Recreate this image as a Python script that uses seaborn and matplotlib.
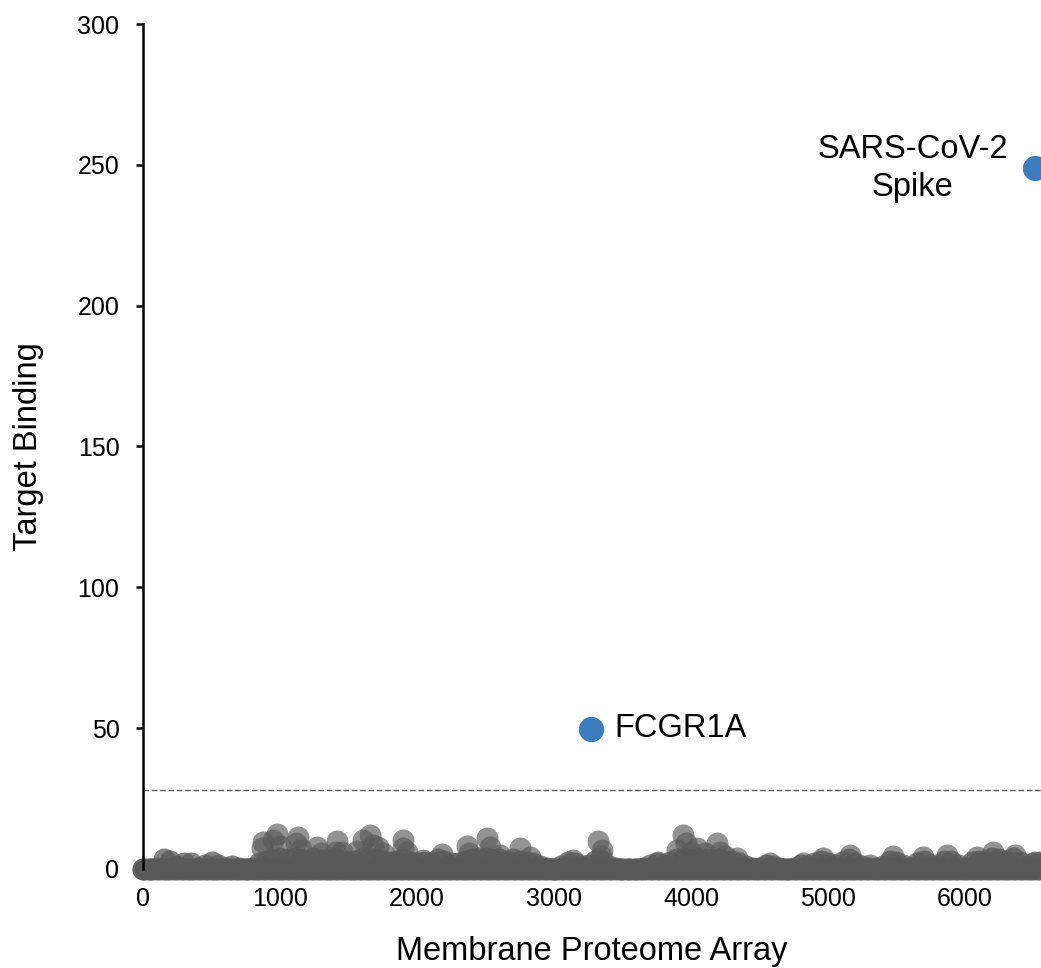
import numpy as np
import pandas as pd
import seaborn as sns
from matplotlib import pyplot as plt

# Membrane Proteome Array: background binding, sampled every 50 array positions
BASE_STEP = 50
base_binding = [
    0, 0, 0.5, 3.5, 3, 1, 2, 2, 0.5, 1.5, 2.5, 1.5, 0.5, 1, 0.5, 0, 0.5,
    2, 3, 3.5, 4, 3.5, 4, 3.5, 3, 4, 3, 3.5, 4, 3, 2.5, 3, 4, 4, 3.5, 3,
    2.5, 3, 3.5, 2.5, 2, 2.5, 2, 3.5, 3, 2, 2, 3, 3.5, 4, 4, 3.5, 3.5, 3,
    3.5, 3, 2.5, 2, 1, 0.5, 0, 1, 2.5, 2, 1, 1.5, 3, 3, 1, 0.5, 0, 0, 0,
    0.5, 1.5, 2, 1.5, 2.5, 3.5, 4, 3.5, 4, 3.5, 3, 3.5, 3, 3, 2, 1, 0.5,
    0.5, 1.5, 1, 0.5, 0, 0.5, 1.5, 1, 2, 3, 2, 1.5, 2.5, 3.5, 2, 1, 0.5,
    0.5, 1, 3, 2.5, 1.5, 0.5, 2, 3, 1.5, 1, 3, 3, 1.5, 0.5, 2.5, 3, 3, 4,
    3.5, 3, 4, 2.5, 1, 2, 2.5,
]
# most array positions read zero binding
ZERO_STEP = 25
ZERO_END = 6550

# weaker binders standing above the background
hit_pos = [
    870, 878, 950, 976, 1000, 1120, 1134, 1150, 1268, 1300, 1410, 1414,
    1450, 1560, 1608, 1657, 1680, 1716, 1750, 1895, 1900, 1930, 2044, 2180,
    2362, 2380, 2509, 2533, 2606, 2752, 2825, 3139, 3324, 3350, 3340, 3760,
    3895, 3942, 3965, 4000, 4041, 4100, 4188, 4210, 4250, 4333, 4577, 4818,
    4966, 5160, 5306, 5477, 5696, 5866, 6085, 6207, 6365, 6511,
]
hit_binding = [
    7.3, 9.7, 10.3, 12.3, 8, 9.1, 11.5, 7, 7.9, 5.5, 6.1, 9.9,
    6, 6.5, 10.3, 12.1, 8.5, 7.9, 5.5, 7.3, 10.3, 6, 3.2, 5.2,
    8.3, 5.6, 10.9, 7.9, 5, 7.6, 4.4, 3.2, 9.9, 6.7, 4.5, 2.6,
    6.7, 12.1, 9.1, 6, 7.3, 5.5, 9.1, 6.1, 4.5, 3.8, 2, 2,
    3.8, 5, 1.4, 4.7, 4.4, 5, 4.4, 6.1, 5, 2.6,
]

# specific targets
target_names = ["FCGR1A", "SARS-CoV-2\nSpike"]
target_pos = [3270, 6511]
target_binding = [49.7, 248.8]
threshold = 28

GREY = "#595959"
BLUE = "#3C7DBF"

sns.set_style("white")
plt.rcParams["font.family"] = ["Liberation Sans", "DejaVu Sans"]
plt.rcParams["text.color"] = "black"
plt.rcParams["axes.labelcolor"] = "black"

zero_pos = np.arange(0, ZERO_END + 1, ZERO_STEP)
floor_df = pd.DataFrame({"pos": zero_pos, "binding": np.zeros(len(zero_pos))})
base_df = pd.DataFrame({"pos": np.arange(len(base_binding)) * BASE_STEP,
                        "binding": base_binding})
hits_df = pd.DataFrame({"pos": hit_pos, "binding": hit_binding})
targets_df = pd.DataFrame({"pos": target_pos, "binding": target_binding,
                           "name": target_names})

fig = plt.figure(figsize=(10.41, 9.68), dpi=100)
ax = fig.add_axes([0.1374, 0.1023, 0.8626, 0.8729])

grey_kw = dict(color=GREY, s=250, linewidth=0, clip_on=False, legend=False)
sns.scatterplot(ax=ax, data=floor_df, x="pos", y="binding", alpha=0.8, **grey_kw)
sns.scatterplot(ax=ax, data=base_df, x="pos", y="binding", alpha=0.75, **grey_kw)
sns.scatterplot(ax=ax, data=hits_df, x="pos", y="binding", alpha=0.65, **grey_kw)

sns.scatterplot(ax=ax, data=targets_df, x="pos", y="binding", color=BLUE,
                s=330, linewidth=0, clip_on=False, legend=False, zorder=4)

ax.axhline(threshold, color=GREY, linewidth=1, linestyle=(0, (4, 2)), zorder=1)

ax.text(3438, 49.7, target_names[0], fontsize=23.5, ha="left", va="center")
ax.text(5620, 248.8, target_names[1], fontsize=23.5, ha="center", va="center",
        linespacing=1.3)

ax.set_xlim(0, 6555)
ax.set_ylim(0, 300)
ax.set_xticks(range(0, 7000, 1000))
ax.set_yticks(range(0, 301, 50))
ax.set_xlabel("Membrane Proteome Array", fontsize=23.5, labelpad=18)
ax.set_ylabel("Target Binding", fontsize=23.5, labelpad=24)

for side in ("top", "right", "bottom"):
    ax.spines[side].set_visible(False)
ax.spines["left"].set_color("black")
ax.spines["left"].set_linewidth(1.8)
ax.tick_params(axis="y", direction="out", length=5, width=1.8, pad=12,
               labelsize=18, left=True, colors="black")
ax.tick_params(axis="x", length=0, pad=13, labelsize=18, colors="black")
ax.grid(False)

plt.savefig("out.png", dpi=100)
